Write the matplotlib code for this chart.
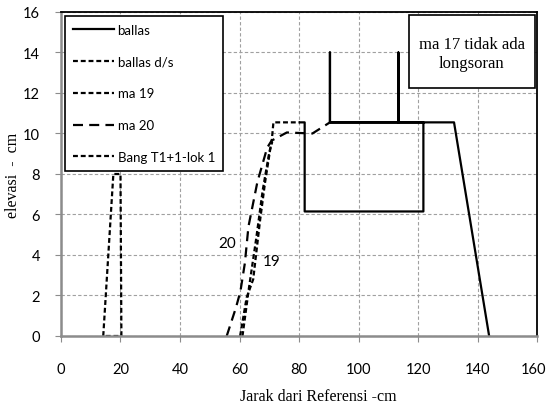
import matplotlib
matplotlib.use('Agg')
import matplotlib.pyplot as plt
import matplotlib.transforms as mtransforms
from matplotlib.patches import Rectangle

# cross section data (x = jarak, y = elevasi)
ballas_x = [80.3, 81.9, 81.9, 121.8, 121.8, 113.4, 113.4, 113.4, 90.4, 90.4, 90.4, 132.1, 143.9]
ballas_y = [10.55, 10.55, 6.15, 6.15, 10.55, 10.55, 14.0, 10.55, 10.55, 14.0, 10.55, 10.55, 0.0]

ballas_ds_x = [61.0, 63.2, 65.6, 67.8, 69.8, 70.8, 71.4, 80.3]
ballas_ds_y = [0.0, 2.4, 4.8, 7.2, 8.9, 9.6, 10.55, 10.55]

ma19_x = [60.2, 62.4, 64.6, 66.9, 68.6, 70.3, 71.0]
ma19_y = [0.0, 1.9, 2.8, 5.7, 7.6, 9.2, 9.6]

ma20_x = [55.7, 58.8, 60.3, 61.8, 63.0, 66.0, 69.3, 70.8, 75.9, 84.5, 90.4]
ma20_y = [0.0, 1.4, 2.2, 3.6, 5.4, 7.6, 9.3, 9.65, 10.05, 10.0, 10.55]

bang_x = [14.2, 17.6, 20.0, 20.3, 14.2]
bang_y = [0.0, 8.0, 8.0, 0.0, 0.0]

xticks = [0, 20, 40, 60, 80, 100, 120, 140, 160]
yticks = [0, 2, 4, 6, 8, 10, 12, 14, 16]

sans = ['Lato', 'DejaVu Sans']
serif = ['Liberation Serif', 'DejaVu Serif']

fig = plt.figure(figsize=(5.48, 4.14), dpi=100)
ax = fig.add_axes([0.1113, 0.186, 0.8687, 0.7826])

short = (0, (2.2, 1.3))
long_ = (0, (4.5, 2.8))

ax.plot(ballas_x, ballas_y, color='black', lw=1.6, label='ballas')
ax.plot(ballas_ds_x, ballas_ds_y, color='black', lw=1.6, linestyle=short, label='ballas d/s')
ax.plot(ma19_x, ma19_y, color='black', lw=1.6, linestyle=short, label='ma 19')
ax.plot(ma20_x, ma20_y, color='black', lw=1.6, linestyle=long_, label='ma 20')
ax.plot(bang_x, bang_y, color='black', lw=1.6, linestyle=short, label='Bang T1+1-lok 1')

ax.set_xlim(0, 160)
ax.set_ylim(0, 16)
ax.set_xticks(xticks)
ax.set_yticks(yticks)
ax.grid(True, color='#a0a0a0', linestyle=(0, (3, 2)), lw=0.8)
ax.set_axisbelow(True)

for s in ['top', 'right']:
    ax.spines[s].set_color('black')
    ax.spines[s].set_linewidth(1.3)
for s in ['left', 'bottom']:
    ax.spines[s].set_color('#8c8c8c')
    ax.spines[s].set_linewidth(1.8)

ax.tick_params(axis='x', direction='out', length=4, color='#8c8c8c', pad=15)
ax.tick_params(axis='y', direction='out', length=4, color='#8c8c8c', pad=11)
for lab in ax.get_xticklabels() + ax.get_yticklabels():
    lab.set_fontfamily(sans)
    lab.set_fontsize(10.5)
# keep the last x label inside the figure
last = ax.get_xticklabels()[-1]
last.set_transform(last.get_transform() + mtransforms.ScaledTranslation(-4 / 100, 0, fig.dpi_scale_trans))

ax.set_xlabel('Jarak dari Referensi -cm', family=serif, fontsize=11.5)
ax.xaxis.set_label_coords(0.54, -0.162)
ax.set_ylabel('elevasi  -  cm', family=serif, fontsize=11.5)
ax.yaxis.set_label_coords(-0.083, 0.5)

ax.text(55.7, 4.6, '20', family=sans, fontsize=11, ha='center', va='center')
ax.text(70.8, 3.7, '19', family=sans, fontsize=11, ha='center', va='center')

# note box
ax.add_patch(Rectangle((0.731, 0.765), 0.265, 0.226, transform=ax.transAxes,
                       facecolor='white', edgecolor='black', lw=1.2, zorder=5))
ax.text(0.863, 0.872, 'ma 17 tidak ada\nlongsoran', transform=ax.transAxes,
        family=serif, fontsize=12, ha='center', va='center', linespacing=1.3, zorder=6)

leg = ax.legend(loc='upper left', bbox_to_anchor=(0.008, 0.988), frameon=True, fancybox=False,
                edgecolor='black', framealpha=1, handlelength=3.1, handletextpad=0.3,
                labelspacing=1.5, borderpad=0.6, borderaxespad=0,
                prop={'family': sans, 'size': 9.5})
leg.get_frame().set_linewidth(1.2)

fig.savefig('out.png', dpi=100)
